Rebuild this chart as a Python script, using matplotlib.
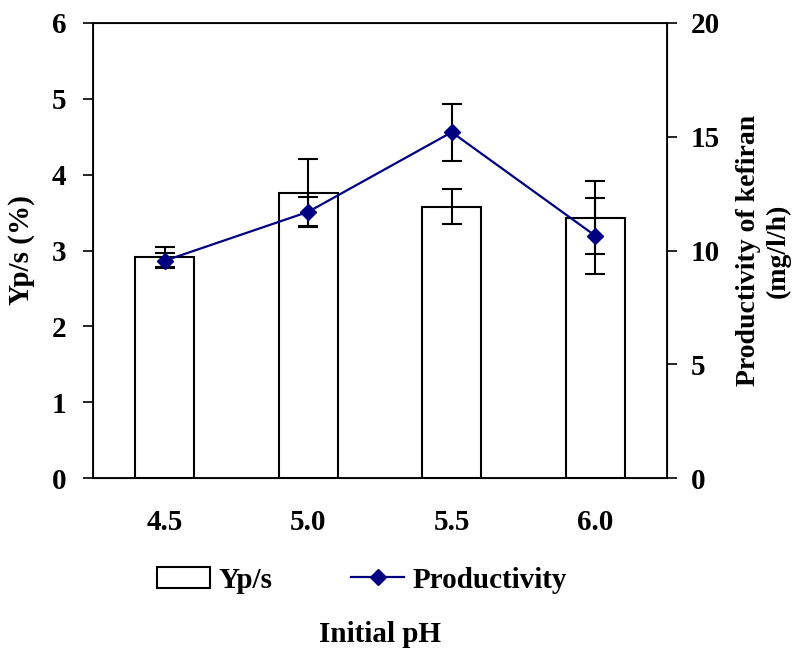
import matplotlib.pyplot as plt
import numpy as np

plt.rcParams['font.family'] = ['Liberation Serif', 'DejaVu Serif']
plt.rcParams['font.weight'] = 'bold'

ph_labels = ['4.5', '5.0', '5.5', '6.0']
yps = [2.91, 3.76, 3.58, 3.43]
yps_err = [0.13, 0.45, 0.23, 0.48]
productivity = [9.55, 11.7, 15.2, 10.65]
productivity_err = [0.33, 0.63, 1.25, 1.67]

x = np.arange(len(ph_labels))
FS = 21

fig = plt.figure(figsize=(8.03, 6.51), dpi=100)
ax = fig.add_axes([0.1158, 0.2657, 0.7148, 0.699])

bars = ax.bar(x, yps, width=0.41, color='white', edgecolor='black', linewidth=1.5,
              label='Yp/s', zorder=2)
ax.errorbar(x, yps, yerr=yps_err, fmt='none', ecolor='black', elinewidth=1.5,
            capsize=7, capthick=1.5, zorder=3)

ax.set_xlim(-0.5, 3.5)
ax.set_ylim(0, 6)
ax.set_xticks(x)
ax.set_xticklabels(ph_labels, fontsize=FS, fontweight='bold')
ax.tick_params(axis='x', length=0, pad=22)
ax.set_yticks(range(0, 7))
ax.tick_params(axis='y', direction='out', length=7, width=1.2, labelsize=FS, pad=12)
for s in ax.spines.values():
    s.set_linewidth(1.3)
ax.set_ylabel('Yp/s (%)', fontsize=FS, fontweight='bold', labelpad=12)

ax2 = ax.twinx()
line, = ax2.plot(x, productivity, color='#000080', linewidth=1.6, marker='D',
                 markersize=8, label='Productivity', zorder=4)
ax2.errorbar(x, productivity, yerr=productivity_err, fmt='none', ecolor='black',
             elinewidth=1.5, capsize=7, capthick=1.5, zorder=3)
ax2.set_ylim(0, 20)
ax2.set_yticks([0, 5, 10, 15, 20])
ax2.tick_params(axis='y', direction='out', length=7, width=1.2, labelsize=FS, pad=10)
ax2.set_ylabel('Productivity of kefiran\n(mg/l/h)', fontsize=20, fontweight='bold',
               labelpad=12)
for lab in ax.get_yticklabels() + ax2.get_yticklabels():
    lab.set_fontweight('bold')

fig.legend([bars, line], ['Yp/s', 'Productivity'], loc='center', ncol=2,
           bbox_to_anchor=(0.451, 0.109), frameon=False,
           handlelength=1.8, handletextpad=0.3, columnspacing=2.7,
           prop={'weight': 'bold', 'size': FS})
fig.text(0.473, 0.026, 'Initial pH', ha='center', va='center', fontsize=FS,
         fontweight='bold')

fig.savefig('out.png', dpi=100)
